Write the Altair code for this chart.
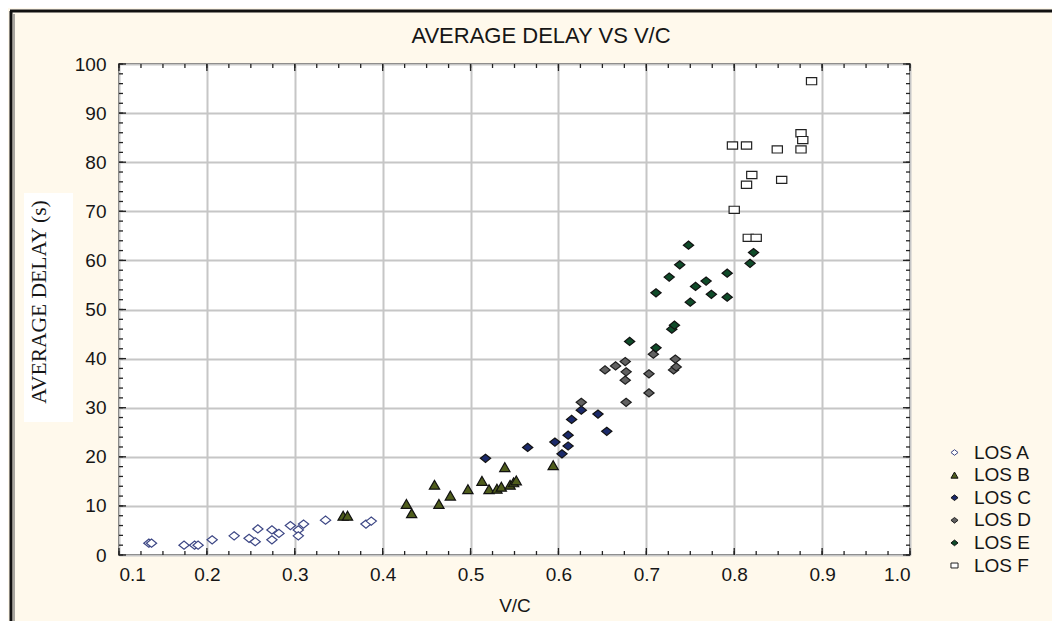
import altair as alt
import pandas as pd

# ---------------- data ----------------
los_a_vc = [0.134, 0.137, 0.174, 0.186, 0.190, 0.206, 0.231, 0.248, 0.255, 0.258, 0.274, 0.274, 0.282,
            0.295, 0.304, 0.304, 0.310, 0.335, 0.381, 0.387]
los_a_delay = [2.4, 2.4, 2.0, 2.0, 2.0, 3.1, 3.9, 3.4, 2.7, 5.3, 5.1, 3.1, 4.4,
               6.0, 5.1, 3.9, 6.3, 7.1, 6.3, 6.9]

los_b_vc = [0.355, 0.360, 0.427, 0.433, 0.459, 0.464, 0.477, 0.497, 0.513, 0.521, 0.530, 0.535,
            0.539, 0.545, 0.549, 0.552, 0.594]
los_b_delay = [8.0, 8.0, 10.4, 8.5, 14.3, 10.4, 12.1, 13.4, 15.1, 13.4, 13.5, 13.9,
               17.9, 14.3, 14.8, 15.2, 18.3]

los_c_vc = [0.517, 0.565, 0.596, 0.604, 0.611, 0.611, 0.615, 0.626, 0.645, 0.655]
los_c_delay = [19.7, 21.9, 23.0, 20.6, 22.2, 24.4, 27.6, 29.5, 28.7, 25.2]

los_d_vc = [0.626, 0.653, 0.665, 0.676, 0.677, 0.676, 0.677, 0.703, 0.703, 0.708, 0.733, 0.731, 0.734]
los_d_delay = [31.1, 37.7, 38.5, 39.4, 37.3, 35.6, 31.1, 36.9, 33.0, 40.9, 39.9, 37.7, 38.3]

los_e_vc = [0.681, 0.711, 0.729, 0.732, 0.711, 0.726, 0.738, 0.748, 0.750, 0.756, 0.768, 0.774,
            0.792, 0.792, 0.818, 0.822]
los_e_delay = [43.5, 42.2, 46.0, 46.8, 53.4, 56.6, 59.1, 63.1, 51.5, 54.7, 55.8, 53.1,
               57.4, 52.5, 59.4, 61.6]

los_f_vc = [0.888, 0.876, 0.878, 0.876, 0.849, 0.798, 0.814, 0.820, 0.814, 0.854, 0.800, 0.816, 0.825]
los_f_delay = [96.5, 85.9, 84.5, 82.6, 82.6, 83.4, 83.4, 77.4, 75.4, 76.4, 70.3, 64.6, 64.6]

categories = ["LOS A", "LOS B", "LOS C", "LOS D", "LOS E", "LOS F"]

x_ticks = [0.1, 0.2, 0.3, 0.4, 0.5, 0.6, 0.7, 0.8, 0.9, 1.0]
y_ticks = [0, 10, 20, 30, 40, 50, 60, 70, 80, 90, 100]
x_minor = [round(0.1 + 0.025 * i, 3) for i in range(37)]
y_minor = [2 * i for i in range(51)]

title_text = "AVERAGE DELAY VS V/C"
y_title_text = "AVERAGE DELAY (s)"
x_title_text = "V/C"

# ---------------- tables ----------------
series = [los_a_vc, los_b_vc, los_c_vc, los_d_vc, los_e_vc, los_f_vc]
series_y = [los_a_delay, los_b_delay, los_c_delay, los_d_delay, los_e_delay, los_f_delay]
rows = []
for cat, xs, ys in zip(categories, series, series_y):
    for xv, yv in zip(xs, ys):
        rows.append({"los": cat, "vc": xv, "delay": yv})
df = pd.DataFrame(rows)

DIAMOND = "M-1,0L0,-0.8L1,0L0,0.8Z"
RECT = "M-1,-0.7L1,-0.7L1,0.7L-1,0.7Z"
shapes = [DIAMOND, "triangle-up", DIAMOND, DIAMOND, DIAMOND, RECT]
fills = ["#ffffff", "#4f5d1c", "#1b2a6a", "#616161", "#0f4b29", "#ffffff"]
strokes = ["#3d4785", "#111111", "#111111", "#1e1e1e", "#111111", "#222222"]

W, H = 791, 491
FONT = "Liberation Sans"
TXT = "#161616"

x_scale = alt.Scale(domain=[0.1, 1.0], nice=False, zero=False)
y_scale = alt.Scale(domain=[0, 100], nice=False, zero=True)

legend = alt.Legend(title=None, orient="none", legendX=826, legendY=379,
                    labelFont=FONT, labelFontSize=19, labelColor=TXT,
                    symbolSize=50, symbolStrokeWidth=1, rowPadding=2.6, labelOffset=10)

points = alt.Chart(df).mark_point(filled=True, size=105, strokeWidth=1.2, opacity=1).encode(
    x=alt.X("vc:Q", scale=x_scale,
            axis=alt.Axis(values=x_ticks, format=".1f", grid=True, gridColor="#c6c6c6", gridWidth=2,
                          domain=False, ticks=False, labelFont=FONT, labelFontSize=19,
                          labelColor=TXT, labelPadding=10, title=x_title_text,
                          titleFont=FONT, titleFontSize=19, titleFontWeight="normal",
                          titleColor=TXT, titlePadding=12)),
    y=alt.Y("delay:Q", scale=y_scale,
            axis=alt.Axis(values=y_ticks, grid=True, gridColor="#c6c6c6", gridWidth=2,
                          domain=False, ticks=False, labelFont=FONT, labelFontSize=19,
                          labelColor=TXT, labelPadding=13, title=None)),
    shape=alt.Shape("los:N", scale=alt.Scale(domain=categories, range=shapes), legend=legend),
    fill=alt.Fill("los:N", scale=alt.Scale(domain=categories, range=fills), legend=legend),
    stroke=alt.Stroke("los:N", scale=alt.Scale(domain=categories, range=strokes), legend=legend),
)

# inward tick marks on all four sides
xmin_df = pd.DataFrame({"t": x_minor})
xmaj_df = pd.DataFrame({"t": x_ticks})
ymin_df = pd.DataFrame({"t": y_minor})
ymaj_df = pd.DataFrame({"t": y_ticks})
tick_layers = []
for d, ln in [(xmin_df, 4), (xmaj_df, 7)]:
    tick_layers.append(alt.Chart(d).mark_rule(color="#222", strokeWidth=1.3).encode(
        x=alt.X("t:Q", scale=x_scale), y=alt.value(H), y2=alt.value(H - ln)))
    tick_layers.append(alt.Chart(d).mark_rule(color="#222", strokeWidth=1.3).encode(
        x=alt.X("t:Q", scale=x_scale), y=alt.value(0), y2=alt.value(ln)))
for d, ln in [(ymin_df, 4), (ymaj_df, 7)]:
    tick_layers.append(alt.Chart(d).mark_rule(color="#222", strokeWidth=1.3).encode(
        y=alt.Y("t:Q", scale=y_scale), x=alt.value(0), x2=alt.value(ln)))
    tick_layers.append(alt.Chart(d).mark_rule(color="#222", strokeWidth=1.3).encode(
        y=alt.Y("t:Q", scale=y_scale), x=alt.value(W), x2=alt.value(W - ln)))

one = pd.DataFrame({"title": [title_text], "ytitle": [y_title_text]})

title_mark = alt.Chart(one).mark_text(font=FONT, fontSize=22, color=TXT,
                                      align="center", baseline="middle").encode(
    text="title:N", x=alt.value(422), y=alt.value(-28))

ybox = alt.Chart(one).mark_rect(color="#ffffff").encode(
    x=alt.value(-95), x2=alt.value(-46), y=alt.value(129), y2=alt.value(358))
ytitle = alt.Chart(one).mark_text(font="Liberation Serif", fontSize=21.5, color=TXT,
                                  angle=270, align="center", baseline="middle").encode(
    text="ytitle:N", x=alt.value(-79), y=alt.value(238))

frame_left = alt.Chart(one).mark_rule(color="#111111", strokeWidth=3).encode(
    x=alt.value(-108), y=alt.value(-53), y2=alt.value(H + 80))
frame_left2 = alt.Chart(one).mark_rule(color="#555555", strokeWidth=1).encode(
    x=alt.value(-105), y=alt.value(-50), y2=alt.value(H + 80))
frame_top = alt.Chart(one).mark_rule(color="#111111", strokeWidth=3).encode(
    y=alt.value(-53), x=alt.value(-109), x2=alt.value(W + 150))

chart = alt.layer(
    frame_left, frame_left2, frame_top, ybox, ytitle, title_mark,
    *tick_layers, points
).properties(
    width=W, height=H,
    autosize=alt.AutoSizeParams(type="none"),
    padding={"left": 111, "top": 56, "right": 142, "bottom": 66},
    background="#fff9ec",
).configure_view(
    fill="#ffffff", stroke="#222222", strokeWidth=1.6
)

chart.save("out.html", embed_options={"renderer": "svg", "actions": False})
